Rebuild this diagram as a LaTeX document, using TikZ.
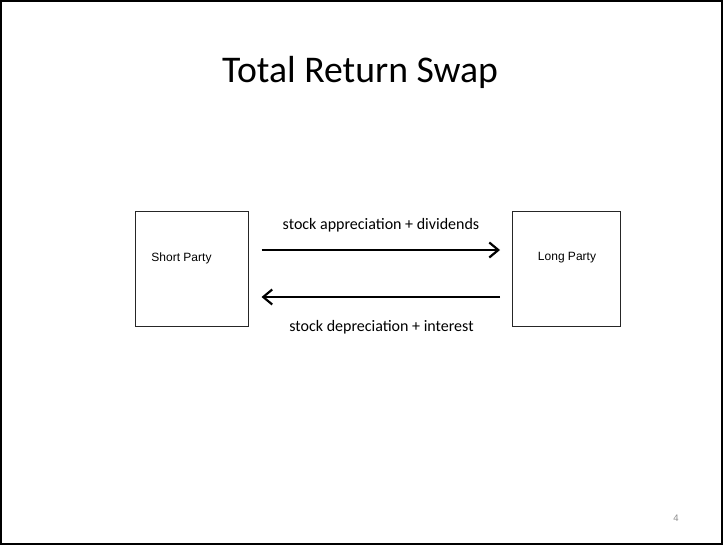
\documentclass[tikz,border=0pt]{standalone}
\usepackage{fontspec}
\setmainfont{Carlito}
\newfontfamily\arialfont{Liberation Sans}
\usetikzlibrary{arrows.meta}
\tikzset{
  party/.style={draw=black!85, line width=1pt, minimum width=113pt, minimum height=115pt, inner sep=0pt},
  partylabel/.style={font=\arialfont\fontsize{12}{14}\selectfont, inner sep=0pt},
  flow/.style={line width=2.4pt, -{Straight Barb[length=9pt, width=15pt, line width=2.2pt]}},
  flowlabel/.style={font=\fontsize{16}{18}\selectfont, inner sep=0pt},
}
\begin{document}
\begin{tikzpicture}[x=1pt, y=-1pt]
  \useasboundingbox (0,0) rectangle (723,545);
  % slide frame
  \draw[line width=2pt] (1,1) rectangle (722,544);
  % title
  \node[font=\fontsize{37.7}{42}\selectfont, anchor=base, inner sep=0pt] (title) at (360,83) {Total Return Swap};
  % the two parties
  \node[party] (short) at (191.5,269.5) {};
  \node[party, minimum width=108pt] (long) at (566.5,269.5) {};
  \node[partylabel] (shortlbl) at (181.5,258) {Short Party};
  \node[partylabel] (longlbl) at (567,258) {Long Party};
  % payment flows
  \draw[flow] ([xshift=13pt, yshift=19.5pt]short.east) -- ([xshift=-12pt, yshift=19.5pt]long.west);
  \draw[flow] ([xshift=-12pt, yshift=-27.5pt]long.west) -- ([xshift=13pt, yshift=-27.5pt]short.east);
  \node[flowlabel] (up) at (381,225) {stock appreciation + dividends};
  \node[flowlabel] (down) at (381.5,327) {stock depreciation + interest};
  % slide number
  \node[font=\arialfont\fontsize{9.5}{11}\selectfont, text=black!45, inner sep=0pt] (num) at (676,518) {4};
\end{tikzpicture}
\end{document}
